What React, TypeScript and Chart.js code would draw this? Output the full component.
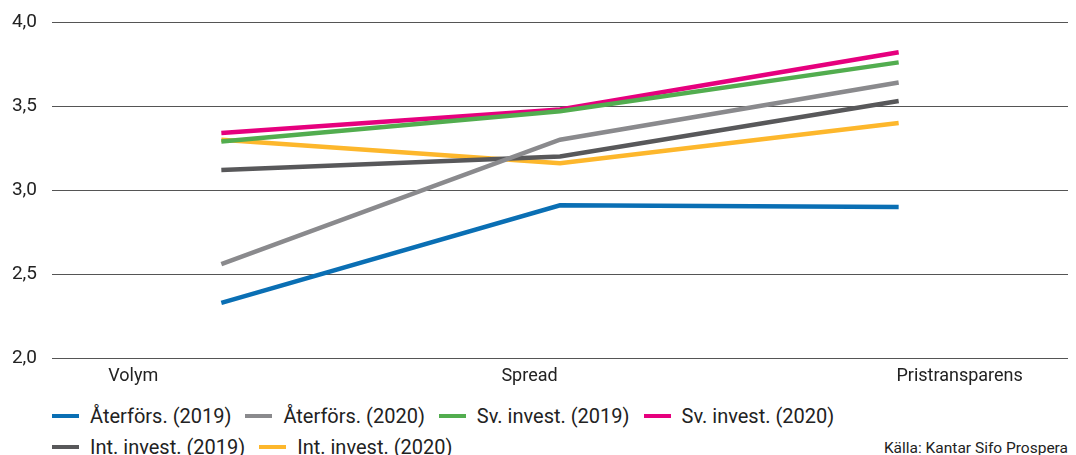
import React, { useEffect, useRef } from "react";
import { Chart, registerables } from "chart.js";

Chart.register(...registerables);

const categories = ["Volym", "Spread", "Pristransparens"];
const seriesNames = [
  "Återförs. (2019)",
  "Återförs. (2020)",
  "Sv. invest. (2019)",
  "Sv. invest. (2020)",
  "Int. invest. (2019)",
  "Int. invest. (2020)",
];
const aterfors2019 = [2.33, 2.91, 2.9];
const aterfors2020 = [2.56, 3.3, 3.64];
const svInvest2019 = [3.29, 3.47, 3.76];
const svInvest2020 = [3.34, 3.48, 3.82];
const intInvest2019 = [3.12, 3.2, 3.53];
const intInvest2020 = [3.3, 3.16, 3.4];
const yTickValues = [2.0, 2.5, 3.0, 3.5, 4.0];
const sourceText = "Källa: Kantar Sifo Prospera";

const seriesValues = [aterfors2019, aterfors2020, svInvest2019, svInvest2020, intInvest2019, intInvest2020];
const seriesColors = ["#0a6fb4", "#8a8a8d", "#52ad4f", "#e6007e", "#58585a", "#fdb72c"];

// where the category captions sit along the axis (in category-index units)
const captionPositions = [-0.26, 0.91, 2.18];

const TEXT = "#222222";
const FONT = "Roboto, 'Noto Sans', sans-serif";

export default function App() {
  const canvasRef = useRef<HTMLCanvasElement | null>(null);

  useEffect(() => {
    if (!canvasRef.current) return;
    const chart = new Chart(canvasRef.current, {
      type: "line",
      data: {
        labels: categories,
        datasets: seriesNames.map((name, i) => ({
          label: name,
          data: seriesValues[i],
          borderColor: seriesColors[i],
          backgroundColor: seriesColors[i],
          borderWidth: 4.5,
          pointRadius: 0,
          tension: 0,
          fill: false,
          xAxisID: "x",
          yAxisID: "y",
        })),
      },
      options: {
        animation: false,
        responsive: true,
        maintainAspectRatio: false,
        layout: { padding: { top: 14, left: 0, right: 0, bottom: 4 } },
        plugins: {
          legend: { display: false },
          tooltip: { enabled: false },
        },
        scales: {
          x: {
            type: "category",
            offset: true,
            display: false,
          },
          xl: {
            type: "linear",
            position: "bottom",
            min: -0.5,
            max: 2.5,
            grid: { display: false, drawTicks: false },
            border: { display: false },
            afterBuildTicks: (scale: any) => {
              scale.ticks = captionPositions.map((v) => ({ value: v }));
            },
            ticks: {
              autoSkip: false,
              maxRotation: 0,
              padding: 7,
              color: TEXT,
              font: { family: FONT, size: 18 },
              callback: (_v: any, i: number) => categories[i],
            },
          },
          y: {
            min: 2,
            max: 4,
            afterBuildTicks: (scale: any) => {
              scale.ticks = yTickValues.map((v) => ({ value: v }));
            },
            afterFit: (scale: any) => {
              scale.width = 44;
              scale.paddingTop = 12;
              scale.paddingBottom = 12;
            },
            grid: { color: "#555555", lineWidth: 1, drawTicks: false },
            border: { display: false },
            ticks: {
              padding: 15,
              color: TEXT,
              font: { family: FONT, size: 19 },
              callback: (v: any) => Number(v).toFixed(1).replace(".", ","),
            },
          },
        },
      },
    });
    return () => chart.destroy();
  }, []);

  return (
    <div style={{ position: "relative", width: 1060, height: 447, fontFamily: FONT, color: TEXT }}>
      <div style={{ position: "absolute", left: 0, top: 0, width: 1060, height: 390 }}>
        <canvas ref={canvasRef} />
      </div>
      <div
        style={{
          position: "absolute",
          left: 44,
          top: 392,
          width: 850,
          display: "flex",
          flexWrap: "wrap",
          columnGap: 14,
        }}
      >
        {seriesNames.map((name, i) => (
          <div key={name} style={{ display: "flex", alignItems: "center", height: 31, whiteSpace: "nowrap" }}>
            <span style={{ display: "inline-block", width: 27, height: 4, background: seriesColors[i], marginRight: 11 }} />
            <span style={{ fontSize: 20, lineHeight: "20px" }}>{name}</span>
          </div>
        ))}
      </div>
      <div
        style={{
          position: "absolute",
          right: 0,
          top: 431,
          fontSize: 15.5,
          lineHeight: "18px",
          whiteSpace: "nowrap",
        }}
      >
        {sourceText}
      </div>
    </div>
  );
}
